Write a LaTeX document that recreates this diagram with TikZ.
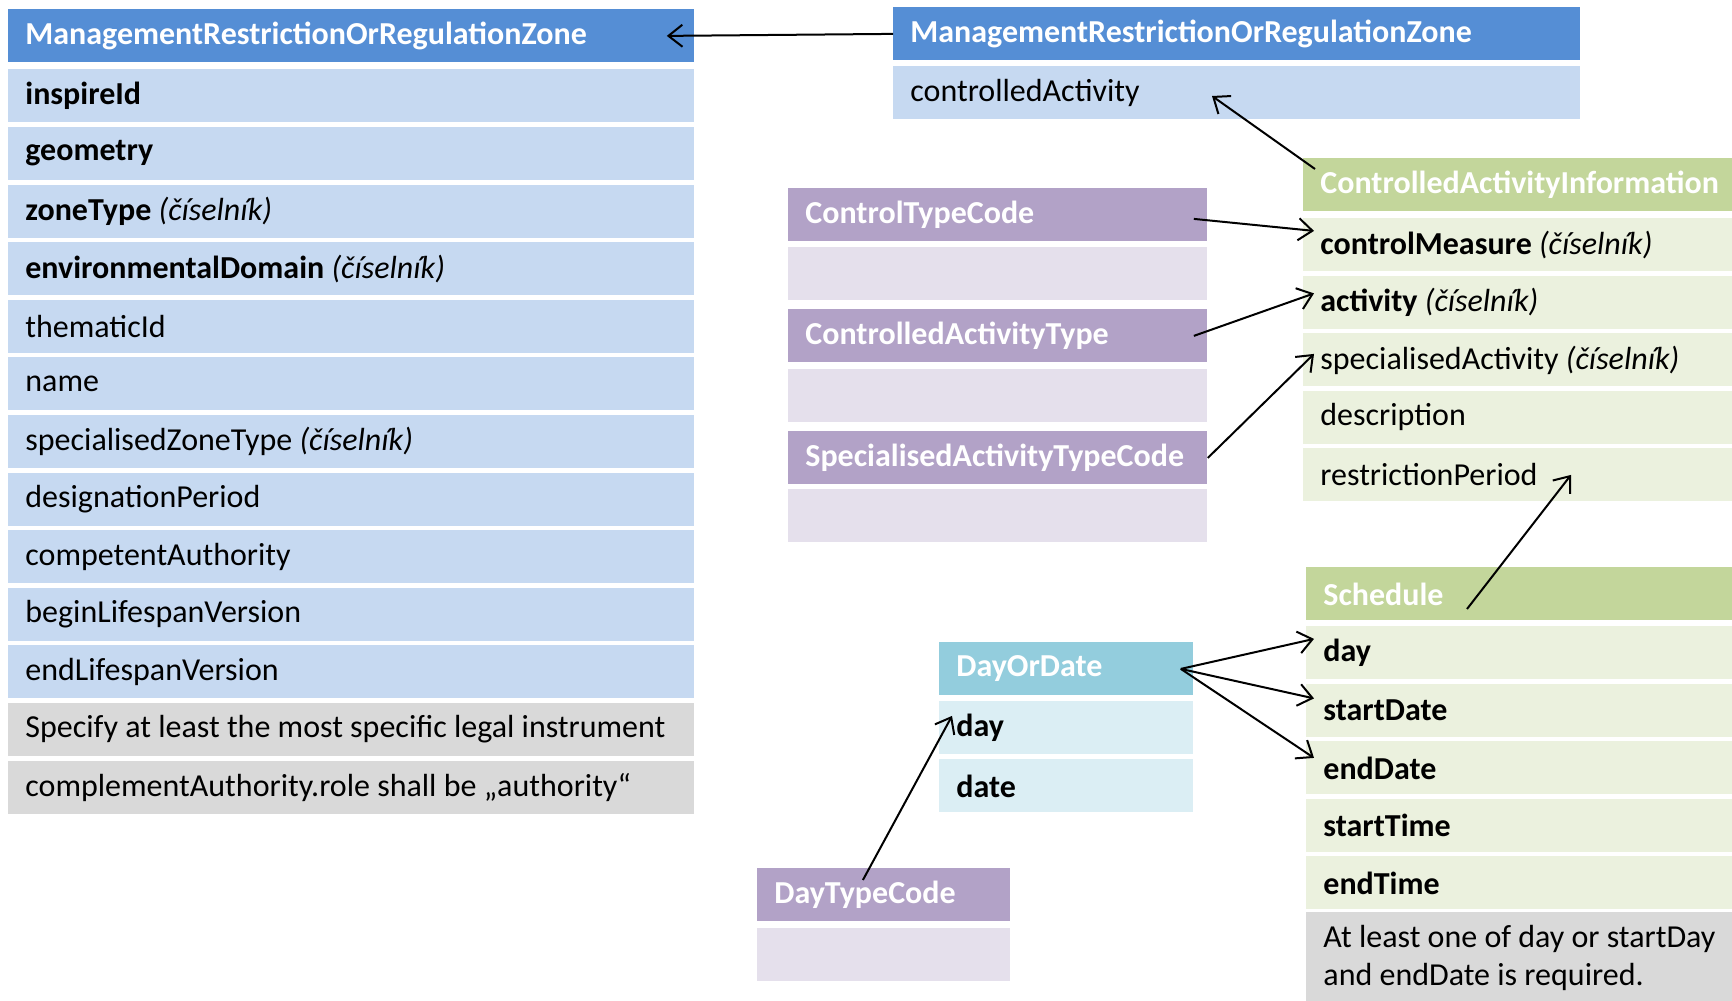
\documentclass[tikz,border=0pt]{standalone}
\usepackage{fontspec}
\setmainfont{Carlito}
\usepackage{tikz}
\usetikzlibrary{arrows.meta}
\definecolor{mblue}{HTML}{558ED5}
\definecolor{lblue}{HTML}{C6D9F1}
\definecolor{ngray}{HTML}{D9D9D9}
\definecolor{mpurple}{HTML}{B2A2C7}
\definecolor{lpurple}{HTML}{E5E0EC}
\definecolor{mgreen}{HTML}{C3D69B}
\definecolor{lgreen}{HTML}{EBF1DE}
\definecolor{mteal}{HTML}{93CDDD}
\definecolor{lteal}{HTML}{DBEEF4}

\begin{document}
\begin{tikzpicture}[x=0.5pt,y=-0.5pt,
    font=\fontsize{16pt}{19pt}\selectfont,
    tbl/.style={anchor=north west, inner xsep=8.5pt, inner ysep=0pt, minimum height=26.5pt, text width=#1, align=flush left},
    hdr/.style={tbl=#1, text=white, font=\fontsize{16pt}{19pt}\selectfont\bfseries},
    conn/.style={-{Straight Barb[length=7pt,width=11pt]}, line width=1pt}]
    \useasboundingbox (0,0) rectangle (1732,1000);
    % left table
    \node[hdr=326pt, fill=mblue] (zoneH) at (8,9) {ManagementRestrictionOrRegulationZone};
    \node[tbl=326pt, fill=lblue] (zoneId) at (8,69) {\textbf{inspireId}};
    \node[tbl=326pt, fill=lblue] (zoneGeo) at (8,126.6) {\textbf{geometry}};
    \node[tbl=326pt, fill=lblue] (zoneType) at (8,184.2) {\textbf{zoneType} \textit{(číselník)}};
    \node[tbl=326pt, fill=lblue] (zoneEnv) at (8,241.8) {\textbf{environmentalDomain} \textit{(číselník)}};
    \node[tbl=326pt, fill=lblue] (zoneThem) at (8,299.4) {thematicId};
    \node[tbl=326pt, fill=lblue] (zoneName) at (8,357) {name};
    \node[tbl=326pt, fill=lblue] (zoneSpec) at (8,414.6) {specialisedZoneType \textit{(číselník)}};
    \node[tbl=326pt, fill=lblue] (zoneDes) at (8,472.2) {designationPeriod};
    \node[tbl=326pt, fill=lblue] (zoneAuth) at (8,529.8) {competentAuthority};
    \node[tbl=326pt, fill=lblue] (zoneBegin) at (8,587.4) {beginLifespanVersion};
    \node[tbl=326pt, fill=lblue] (zoneEnd) at (8,645) {endLifespanVersion};
    \node[tbl=326pt, fill=ngray] (zoneNote1) at (8,702.6) {Specify at least the most specific legal instrument};
    \node[tbl=326pt, fill=ngray] (zoneNote2) at (8,760.2) {complementAuthority.role shall be „authority“};
    % top right
    \node[hdr=326.5pt, fill=mblue] (refH) at (893,7) {ManagementRestrictionOrRegulationZone};
    \node[tbl=326.5pt, fill=lblue] (refAct) at (893,66) {controlledActivity};
    % controlled activity information
    \node[hdr=197.5pt, fill=mgreen] (caiH) at (1303,158) {ControlledActivityInformation};
    \node[tbl=197.5pt, fill=lgreen] (caiMeas) at (1303,218) {\textbf{controlMeasure} \textit{(číselník)}};
    \node[tbl=197.5pt, fill=lgreen] (caiAct) at (1303,275.5) {\textbf{activity} \textit{(číselník)}};
    \node[tbl=197.5pt, fill=lgreen] (caiSpec) at (1303,333) {specialisedActivity \textit{(číselník)}};
    \node[tbl=197.5pt, fill=lgreen] (caiDesc) at (1303,390.5) {description};
    \node[tbl=197.5pt, fill=lgreen] (caiPer) at (1303,448) {restrictionPeriod};
    % code lists
    \node[hdr=192.5pt, fill=mpurple] (ctcH) at (788,188) {ControlTypeCode};
    \node[tbl=192.5pt, fill=lpurple] (ctcB) at (788,247) {};
    \node[hdr=192.5pt, fill=mpurple] (catH) at (788,309) {ControlledActivityType};
    \node[tbl=192.5pt, fill=lpurple] (catB) at (788,369) {};
    \node[hdr=192.5pt, fill=mpurple] (satH) at (788,431) {SpecialisedActivityTypeCode};
    \node[tbl=192.5pt, fill=lpurple] (satB) at (788,489) {};
    \node[hdr=109.5pt, fill=mpurple] (dtcH) at (757,868) {DayTypeCode};
    \node[tbl=109.5pt, fill=lpurple] (dtcB) at (757,928) {};
    % schedule
    \node[hdr=196pt, fill=mgreen] (schH) at (1306,567) {Schedule};
    \node[tbl=196pt, fill=lgreen] (schDay) at (1306,626) {\textbf{day}};
    \node[tbl=196pt, fill=lgreen] (schSD) at (1306,683.5) {\textbf{startDate}};
    \node[tbl=196pt, fill=lgreen] (schED) at (1306,741) {\textbf{endDate}};
    \node[tbl=196pt, fill=lgreen] (schST) at (1306,798.5) {\textbf{startTime}};
    \node[tbl=196pt, fill=lgreen] (schET) at (1306,856) {\textbf{endTime}};
    \node[tbl=196pt, fill=ngray, minimum height=46pt] (schNote) at (1306,912) {At least one of day or startDay\\and endDate is required.};
    % day or date
    \node[hdr=110pt, fill=mteal] (dodH) at (939,642) {DayOrDate};
    \node[tbl=110pt, fill=lteal] (dodDay) at (939,701) {\textbf{day}};
    \node[tbl=110pt, fill=lteal] (dodDate) at (939,759) {\textbf{date}};
    % connectors
    \draw[conn] (refH.west) -- ([xshift=-14pt]zoneH.east);
    \draw[conn] ([xshift=6pt,yshift=-5.5pt]caiH.north west) -- ([xshift=159.5pt,yshift=-15pt]refAct.north west);
    \draw[conn] ([xshift=-7pt,yshift=-2pt]ctcH.east) -- ([xshift=5.5pt,yshift=7pt]caiMeas.west);
    \draw[conn] ([xshift=-7pt]catH.east) -- ([xshift=5.5pt,yshift=4.5pt]caiAct.west);
    \draw[conn] (satH.east) -- ([xshift=5.5pt,yshift=3pt]caiSpec.west);
    \draw[conn] ([xshift=80.5pt,yshift=-21pt]schH.north west) -- ([xshift=134pt]caiPer.west);
    \draw[conn] ([xshift=-6.5pt]dodH.east) -- ([xshift=4pt,yshift=7pt]schDay.west);
    \draw[conn] ([xshift=-6.5pt]dodH.east) -- ([xshift=4pt,yshift=6pt]schSD.west);
    \draw[conn] ([xshift=-6.5pt]dodH.east) -- ([xshift=4pt,yshift=5pt]schED.west);
    \draw[conn] ([xshift=-10.5pt,yshift=-6pt]dtcH.north) -- ([xshift=6.5pt,yshift=6pt]dodDay.west);
\end{tikzpicture}
\end{document}
